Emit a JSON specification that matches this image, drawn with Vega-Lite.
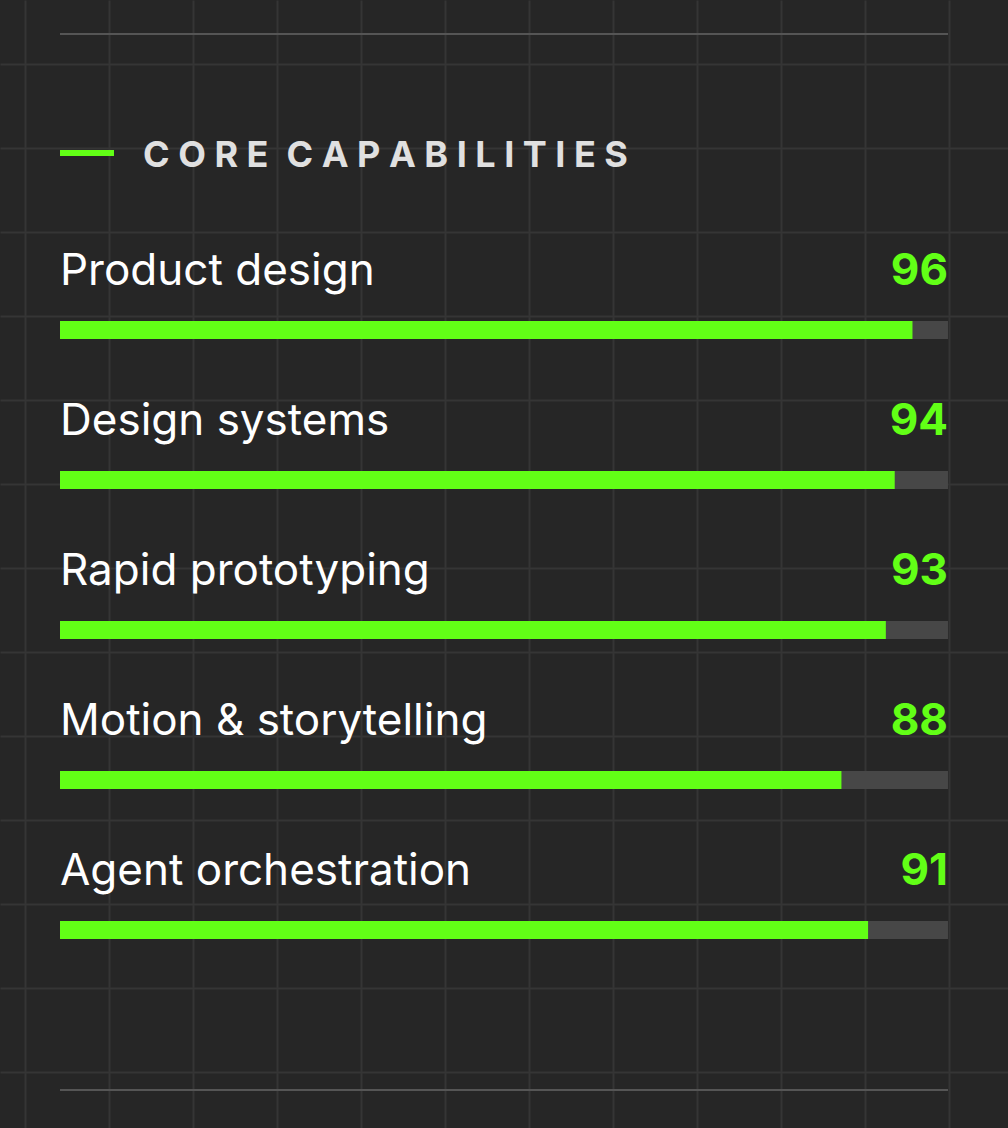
{
  "$schema": "https://vega.github.io/schema/vega-lite/v6.json",
  "width": 1008,
  "height": 1128,
  "autosize": {"type": "fit", "contains": "padding"},
  "padding": 0,
  "background": "#262626",
  "config": {
    "view": {"stroke": null},
    "scale": {"continuousPadding": 0},
    "axis": {"labels": false, "ticks": false, "domain": false, "title": null, "grid": true, "gridColor": "#353535", "gridWidth": 2}
  },
  "resolve": {"axis": {"x": "independent", "y": "independent"}},
  "datasets": {
    "skills": [
      {"skill": "Product design", "score": 96, "row": 0},
      {"skill": "Design systems", "score": 94, "row": 1},
      {"skill": "Rapid prototyping", "score": 93, "row": 2},
      {"skill": "Motion & storytelling", "score": 88, "row": 3},
      {"skill": "Agent orchestration", "score": 91, "row": 4}
    ],
    "heading": [{"title": "C O R E\u2002C A P A B I L I T I E S"}]
  },
  "data": {"name": "skills"},
  "layer": [
    {
      "mark": {"type": "bar", "orient": "horizontal", "height": 18, "color": "#474747"},
      "encoding": {
        "x": {"datum": 100, "type": "quantitative", "scale": {"domain": [-6.7568, 106.7568], "nice": false, "zero": false, "padding": 0},
          "axis": {"values": [-3.9414, 5.518, 14.9775, 24.4369, 33.8964, 43.3559, 52.8153, 62.2748, 71.7342, 81.1937, 90.6532, 100.1126]}},
        "y": {"field": "row", "type": "quantitative", "scale": {"domain": [-2.2, 5.32], "nice": false, "zero": false, "reverse": true, "padding": 0},
          "axis": {"values": [-1.7733, -1.2133, -0.6533, -0.0933, 0.4667, 1.0267, 1.5867, 2.1467, 2.7067, 3.2667, 3.8267, 4.3867, 4.9467]}}
      }
    },
    {
      "mark": {"type": "bar", "orient": "horizontal", "height": 18, "color": "#62ff16"},
      "encoding": {
        "x": {"field": "score", "type": "quantitative", "axis": null},
        "y": {"field": "row", "type": "quantitative", "axis": null}
      }
    },
    {
      "mark": {"type": "text", "align": "left", "baseline": "alphabetic", "dy": -45, "fontSize": 44, "font": "Inter", "color": "#ffffff"},
      "encoding": {
        "x": {"datum": 0, "type": "quantitative", "axis": null},
        "y": {"field": "row", "type": "quantitative", "axis": null},
        "text": {"field": "skill", "type": "nominal"}
      }
    },
    {
      "mark": {"type": "text", "align": "right", "baseline": "alphabetic", "dy": -45, "fontSize": 44, "fontWeight": "bold", "font": "Inter", "color": "#62ff16"},
      "encoding": {
        "x": {"datum": 100, "type": "quantitative", "axis": null},
        "y": {"field": "row", "type": "quantitative", "axis": null},
        "text": {"field": "score", "type": "quantitative"}
      }
    },
    {
      "data": {"name": "heading"},
      "mark": {"type": "bar", "orient": "horizontal", "height": 2, "color": "#555555"},
      "encoding": {
        "x": {"datum": 100, "type": "quantitative", "axis": null},
        "y": {"datum": -1.9733, "type": "quantitative", "axis": null}
      }
    },
    {
      "data": {"name": "heading"},
      "mark": {"type": "bar", "orient": "horizontal", "height": 2, "color": "#555555"},
      "encoding": {
        "x": {"datum": 100, "type": "quantitative", "axis": null},
        "y": {"datum": 5.0667, "type": "quantitative", "axis": null}
      }
    },
    {
      "data": {"name": "heading"},
      "mark": {"type": "bar", "orient": "horizontal", "height": 6, "color": "#62ff16"},
      "encoding": {
        "x": {"datum": 6.08, "type": "quantitative", "axis": null},
        "y": {"datum": -1.18, "type": "quantitative", "axis": null}
      }
    },
    {
      "data": {"name": "heading"},
      "mark": {"type": "text", "align": "left", "baseline": "middle", "fontSize": 36, "fontWeight": "bold", "font": "Inter", "color": "#e0e0e0"},
      "encoding": {
        "x": {"datum": 9.35, "type": "quantitative", "axis": null},
        "y": {"datum": -1.16, "type": "quantitative", "axis": null},
        "text": {"field": "title", "type": "nominal"}
      }
    }
  ]
}
